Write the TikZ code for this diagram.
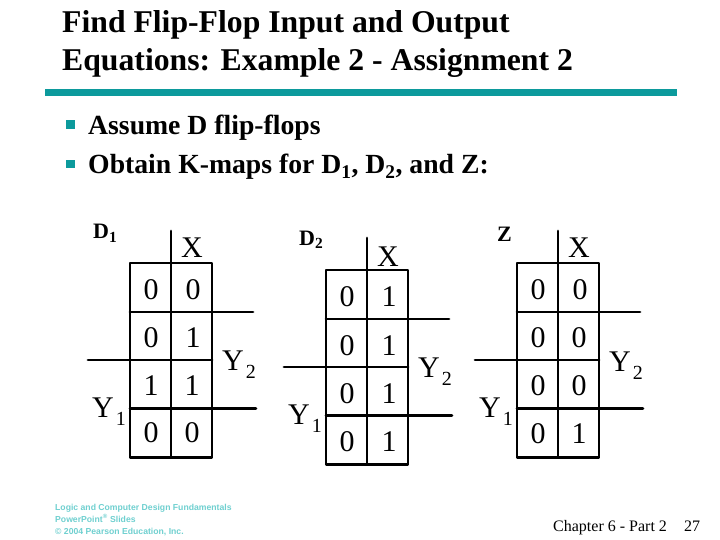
\documentclass[tikz,border=0pt]{standalone}
\usepackage{fontspec}
\setmainfont{Liberation Serif}
\newfontfamily\footfont{Liberation Sans}
\definecolor{tealbar}{HTML}{0C9A9C}
\definecolor{footteal}{HTML}{6FD0D0}
\newcommand{\fsz}[1]{\fontsize{#1}{#1}\selectfont}
\newcommand{\subtxt}[2]{#1\kern2pt\raisebox{-8pt}{\fsz{20}#2}}
\newcommand{\kmap}[5]{% name, left x, top y, ext-left x, digits
  \coordinate (#1tl) at (#2,#3);
  \coordinate (#1tr) at (#2+82,#3);
  \coordinate (#1bl) at (#2,#3+194.5);
  \coordinate (#1br) at (#2+82,#3+194.5);
  \coordinate (#1mt) at (#2+41,#3);
  \coordinate (#1up) at (#2+41,#3-32);
  \coordinate (#1mb) at (#2+41,#3+194.5);
  \coordinate (#1a) at (#2,#3+49);
  \coordinate (#1ar) at (#2+123,#3+49);
  \coordinate (#1bL) at (#4,#3+97);
  \coordinate (#1bR) at (#2+82,#3+97);
  \coordinate (#1c) at (#2,#3+145.5);
  \coordinate (#1cr) at (#2+126,#3+145.5);
  \draw[gridline] (#1tl) -- (#1tr) -- (#1br) -- (#1bl) -- cycle;
  \draw[gridline] (#1up) -- (#1mb);
  \draw[gridline] (#1a) -- (#1ar);
  \draw[gridline] (#1bL) -- (#1bR);
  \draw[gridline] (#1c) -- (#1cr);
}
\tikzset{
  gridline/.style={line width=2.7pt,line cap=round,line join=round,black},
  digit/.style={anchor=center,inner sep=0pt,font=\fsz{30}},
  varlabel/.style={anchor=base west,inner sep=0pt,font=\fsz{30}},
  maplabel/.style={anchor=base west,inner sep=0pt,font=\fsz{22}\bfseries},
  titletext/.style={anchor=base west,inner sep=0pt,font=\fsz{31.7}\bfseries},
  bullettext/.style={anchor=base west,inner sep=0pt,font=\fsz{27.7}\bfseries},
  bulletsq/.style={fill=tealbar,draw=none,minimum size=8.5pt,inner sep=0pt,anchor=center},
  foottext/.style={anchor=base west,inner sep=0pt,text=footteal,font=\footfont\fsz{8.65}\bfseries},
  pagetext/.style={anchor=base west,inner sep=0pt,font=\fsz{16}}
}
\begin{document}
\begin{tikzpicture}[x=1pt,y=-1pt]
\useasboundingbox (0,0) rectangle (720,540);
\fill[white] (0,0) rectangle (720,540);
\node[titletext] (t1) at (62,32.5) {Find Flip-Flop Input and Output};
\node[titletext] (t2) at (62,71) {Equations: Example 2 - Assignment 2};
\fill[tealbar] (45,89) rectangle (677,96);
\node[bulletsq] (b1) at (70.5,124.5) {};
\node[bulletsq] (b2) at (70.5,164) {};
\node[bullettext] (l1) at (88,134.5) {Assume D flip-flops};
\node[bullettext] (l2) at (88,174) {Obtain K-maps for D\textsubscript{1}, D\textsubscript{2}, and Z:};
% Map 1
\kmap{m}{130}{263}{88}{}
\node[digit] (m11) at (151,290) {0}; \node[digit] (m12) at (193,290) {0};
\node[digit] (m21) at (151,338) {0}; \node[digit] (m22) at (193,338) {1};
\node[digit] (m31) at (151,386) {1}; \node[digit] (m32) at (192,386) {1};
\node[digit] (m41) at (151,433) {0}; \node[digit] (m42) at (192,433) {0};
\node[maplabel] (mD) at (93,239) {D\textsubscript{1}};
\node[varlabel] (mX) at (181,258) {X};
\node[varlabel] (mY2) at (222,370) {\subtxt{Y}{2}};
\node[varlabel] (mY1) at (92,417) {\subtxt{Y}{1}};
% Map 2
\kmap{n}{326}{270}{284}{}
\node[digit] (n11) at (347,297) {0}; \node[digit] (n12) at (389,297) {1};
\node[digit] (n21) at (347,346) {0}; \node[digit] (n22) at (389,346) {1};
\node[digit] (n31) at (347,394) {0}; \node[digit] (n32) at (389,394) {1};
\node[digit] (n41) at (347,442) {0}; \node[digit] (n42) at (389,442) {1};
\node[maplabel] (nD) at (299,245) {D\textsubscript{2}};
\node[varlabel] (nX) at (377,266) {X};
\node[varlabel] (nY2) at (418,377) {\subtxt{Y}{2}};
\node[varlabel] (nY1) at (288,424) {\subtxt{Y}{1}};
% Map 3
\kmap{p}{517}{263}{475}{}
\node[digit] (p11) at (538,290) {0}; \node[digit] (p12) at (580,290) {0};
\node[digit] (p21) at (538,338) {0}; \node[digit] (p22) at (579,338) {0};
\node[digit] (p31) at (538,386) {0}; \node[digit] (p32) at (579,386) {0};
\node[digit] (p41) at (538,434) {0}; \node[digit] (p42) at (579,434) {1};
\node[maplabel] (pZ) at (497,241.5) {Z};
\node[varlabel] (pX) at (568,258) {X};
\node[varlabel] (pY2) at (609,371) {\subtxt{Y}{2}};
\node[varlabel] (pY1) at (479,417) {\subtxt{Y}{1}};
% Footer
\node[foottext] (f1) at (55,510) {Logic and Computer Design Fundamentals};
\node[foottext] (f2) at (55,522) {PowerPoint\textsuperscript{®} Slides};
\node[foottext] (f3) at (55,534) {© 2004 Pearson Education, Inc.};
\node[pagetext] (pg) at (553,531.5) {Chapter 6 - Part 2};
\node[pagetext] (num) at (684,531.5) {27};
\end{tikzpicture}
\end{document}
